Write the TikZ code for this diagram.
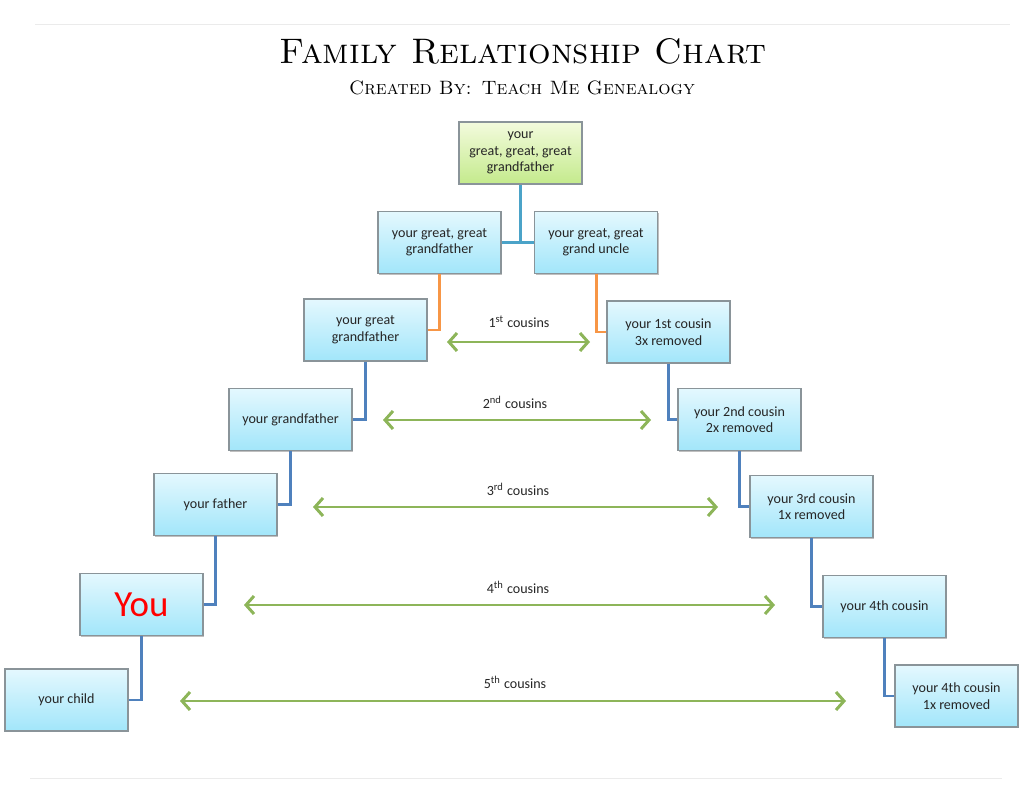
\documentclass[tikz,border=0pt]{standalone}
\usepackage{fontspec}
\newfontfamily\boxfont{Carlito}
\usepackage{tikz}
\usetikzlibrary{arrows.meta}
\usetikzlibrary{positioning}
\usetikzlibrary{shadows}
\definecolor{boxtop}{HTML}{E4F8FE}
\definecolor{boxbot}{HTML}{A2E6FA}
\definecolor{roottop}{HTML}{F3FBDD}
\definecolor{rootbot}{HTML}{C4EA8C}
\definecolor{boxline}{HTML}{8A9499}
\definecolor{linkblue}{HTML}{4F81BD}
\definecolor{rootblue}{HTML}{4BA3C8}
\definecolor{linkorange}{HTML}{F79646}
\definecolor{cousgreen}{HTML}{8DB559}
\definecolor{txt}{HTML}{262626}
\tikzset{
    person/.style = {draw=boxline,line width=0.6pt,top color=boxtop,bottom color=boxbot,
        minimum width=2.46cm,minimum height=1.24cm,align=center,text=txt,
        font=\boxfont\fontsize{8}{9.4}\selectfont,
        drop shadow={shadow xshift=0.8pt,shadow yshift=-0.8pt,opacity=0.25,fill=black}},
    root/.style = {person,top color=roottop,bottom color=rootbot},
    link/.style = {linkblue,line width=1.7pt},
    toplink/.style = {rootblue,line width=1.7pt},
    unclelink/.style = {linkorange,line width=1.7pt},
    cousin/.style = {cousgreen,line width=1.7pt,{Straight Barb[length=1.6mm,width=3.6mm]}-{Straight Barb[length=1.6mm,width=3.6mm]}},
    cuslabel/.style = {text=txt,font=\boxfont\fontsize{8}{9.4}\selectfont},
    rule/.style = {black!8,line width=0.5pt}
}
\begin{document}
\begin{tikzpicture}[x=0.02cm,y=-0.02cm]
        \useasboundingbox (0,0) rectangle (1024,786);
        % Page rules
        \coordinate (rtl) at (35,24);
        \coordinate (rtr) at (1010,24);
        \coordinate (rbl) at (30,778);
        \coordinate (rbr) at (1002,778);
        \draw[rule] (rtl) -- (rtr);
        \draw[rule] (rbl) -- (rbr);
        % Title
        \node (title) at (523,51) {\fontsize{20.2}{24}\selectfont\scshape Family Relationship Chart};
        \node (subtitle) at (522,88) {\fontsize{11}{14}\selectfont\scshape Created By: Teach Me Genealogy};
        % Ancestors
        \node[root] (gggf) at (520.5,153) {your\\great, great, great\\grandfather};
        \node[person] (ggf) at (439.5,242.5) {your great, great\\grandfather};
        \node[person] (ggu) at (596,242.5) {your great, great\\grand uncle};
        \node[person] (gf3) at (365.5,330) {your great\\grandfather};
        \node[person] (gf) at (290.5,419.5) {your grandfather};
        \node[person] (fa) at (215.5,504.5) {your father};
        \node[person] (you) at (141.5,604.5) {\fontsize{21}{24}\selectfont\color{red}You};
        \node[person] (ch) at (66.5,700) {your child};
        % Cousins
        \node[person] (c1) at (668.5,332) {your 1st cousin\\3x removed};
        \node[person] (c2) at (739.5,419.5) {your 2nd cousin\\2x removed};
        \node[person] (c3) at (811.5,506.5) {your 3rd cousin\\1x removed};
        \node[person] (c4) at (884.5,606.5) {your 4th cousin};
        \node[person] (c5) at (956.5,696) {your 4th cousin\\1x removed};
        % Lines
        \draw[toplink] (gggf.south) |- (ggf.east);
        \draw[toplink] (gggf.south) |- (ggu.west);
        \draw[unclelink] (ggf.south) |- (gf3.east);
        \draw[unclelink] (ggu.south) |- (c1.west);
        \foreach \src/\dest in {gf3/gf,gf/fa,fa/you,you/ch}
            \draw[link] (\src.south) |- (\dest.east);
        \foreach \src/\dest in {c1/c2,c2/c3,c3/c4,c4/c5}
            \draw[link] (\src.south) |- (\dest.west);
        % Cousin arrows
        \foreach \n/\y/\xa/\xb in {1/342/447/590,2/420/383/651,3/507/313/718,4/605/244/775,5/701/180/846}{
            \coordinate (ca\n) at (\xa,\y);
            \coordinate (cb\n) at (\xb,\y);
            \draw[cousin] (ca\n) -- (cb\n);
        }
        \node[cuslabel] (l1) at (519,322) {1\textsuperscript{st} cousins};
        \node[cuslabel] (l2) at (515,402) {2\textsuperscript{nd} cousins};
        \node[cuslabel] (l3) at (518,489) {3\textsuperscript{rd} cousins};
        \node[cuslabel] (l4) at (518,587) {4\textsuperscript{th} cousins};
        \node[cuslabel] (l5) at (515,682) {5\textsuperscript{th} cousins};
    \end{tikzpicture}
\end{document}
